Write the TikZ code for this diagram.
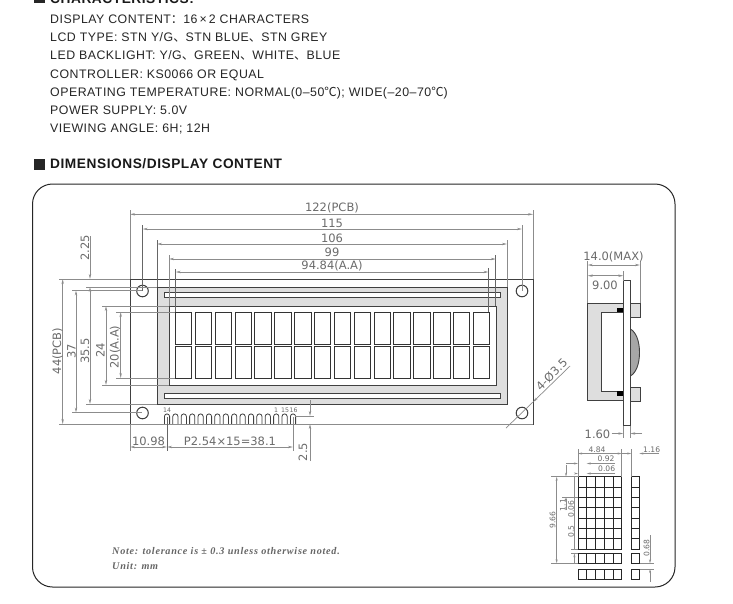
\documentclass[tikz,border=0pt]{standalone}
\usepackage{fontspec}
\setmainfont{Liberation Sans}
\newfontfamily\hdrfont[LetterSpace=4]{Liberation Sans}
\newfontfamily\cjk{Noto Sans CJK SC}
\newfontfamily\notefont[LetterSpace=7]{Liberation Serif}
\newfontfamily\cadfont{DejaVu Sans}
\usetikzlibrary{arrows.meta}
\definecolor{dimgray}{gray}{0.55}
\definecolor{txtgray}{gray}{0.42}
\definecolor{shapegray}{gray}{0.25}
\definecolor{panelgray}{gray}{0.87}
\newcommand{\pu}{{\cjk 、}}
\newcommand{\degc}{{\cjk ℃}}
\tikzset{
  hdr/.style={anchor=west,inner sep=0pt,text height=9pt,text depth=0pt,font=\hdrfont\fontsize{12.35}{12}\selectfont,text=black!85},
  hdrb/.style={anchor=west,inner sep=0pt,text height=9.8pt,text depth=0pt,font=\hdrfont\bfseries\fontsize{13.7}{13}\selectfont,text=black!90},
  notetxt/.style={anchor=west,inner sep=0pt,font=\notefont\bfseries\itshape\fontsize{10.2}{10}\selectfont,text=black!60},
  dimtxt/.style={inner sep=0pt,text height=8.4pt,text depth=0pt,font=\cadfont\fontsize{11.5}{12}\selectfont,text=txtgray},
  dimsmall/.style={inner sep=0pt,text height=5.7pt,text depth=0pt,font=\cadfont\fontsize{7.6}{8}\selectfont,text=txtgray},
  pinlab/.style={inner sep=0pt,text height=4.6pt,text depth=0pt,font=\cadfont\fontsize{6.2}{7}\selectfont,text=txtgray},
  extl/.style={draw=dimgray,line width=0.8pt},
  extd/.style={draw=shapegray!80,line width=0.7pt},
  dimln/.style={draw=dimgray,line width=0.7pt,{Stealth[length=5pt,width=2.4pt]}-{Stealth[length=5pt,width=2.4pt]}},
  dimto/.style={draw=dimgray,line width=0.7pt,-{Stealth[length=5pt,width=2.4pt]}},
  outl/.style={draw=shapegray,line width=0.9pt},
  cellbox/.style={draw=black!80,line width=0.9pt,fill=white},
  dimS/.style={draw=dimgray,line width=0.6pt,{Stealth[length=4pt,width=2pt]}-{Stealth[length=4pt,width=2pt]}},
  dimSto/.style={draw=dimgray,line width=0.6pt,-{Stealth[length=4pt,width=2pt]}},
  extS/.style={draw=dimgray,line width=0.6pt},
  pixbox/.style={draw=black!85,line width=0.9pt},
}
\begin{document}
\begin{tikzpicture}[x=1pt,y=-1pt]
\clip (0,0) rectangle (733,603);
\fill[white] (0,0) rectangle (733,603);
% header text
\fill[black!85] (34,-5) rectangle (45,3);
\node[hdrb] (hc) at (50,-1) {CHARACTERISTICS:};
\node[hdr] (l1) at (50,18.7) {DISPLAY CONTENT{\cjk ：}16\,×\,2 CHARACTERS};
\node[hdr] (l2) at (50,37) {LCD TYPE: STN Y/G\pu STN BLUE\pu STN GREY};
\node[hdr] (l3) at (50,55.2) {LED BACKLIGHT: Y/G\pu GREEN\pu WHITE\pu BLUE};
\node[hdr] (l4) at (50,73.5) {CONTROLLER: KS0066 OR EQUAL};
\node[hdr] (l5) at (50,91.7) {OPERATING TEMPERATURE: NORMAL(0–50\degc); WIDE(–20–70\degc)};
\node[hdr] (l6) at (50,110) {POWER SUPPLY: 5.0V};
\node[hdr] (l7) at (50,128.2) {VIEWING ANGLE: 6H; 12H};
\fill[black!85] (34,158.5) rectangle (45,170);
\node[hdrb] (hd) at (50,164) {DIMENSIONS/DISPLAY CONTENT};
% outer frame
\draw[black!85,line width=1pt,rounded corners=20pt] (32.5,184) rectangle (675,587);
% front view
\draw[outl] (130,279) rectangle (533,424);
\filldraw[outl,fill=panelgray] (157,287) rectangle (507,404);
\filldraw[outl,fill=white] (169,306) rectangle (496,385);
\filldraw[outl,fill=white] (164,292.5) rectangle (500.5,297);
\filldraw[outl,fill=white] (164,393.5) rectangle (500.5,398);
\foreach \i in {0,...,15}{
  \pgfmathsetmacro{\xa}{175.4+19.86*\i}
  \pgfmathsetmacro{\xb}{\xa+16.5}
  \draw[cellbox] (\xa,312.5) rectangle (\xb,344);
  \draw[cellbox] (\xa,346.5) rectangle (\xb,378);
}
\foreach \p in {(142.5,291),(522,291),(142.5,413),(522,413)}
  \draw[outl,line width=1pt] \p circle (5.8);
% pins
\foreach \i in {0,...,15}{
  \pgfmathsetmacro{\xc}{167+8.4*\i}
  \draw[outl,line width=0.8pt] (\xc-2.6,424) -- (\xc-2.6,416.5) arc[start angle=180,end angle=360,radius=2.6] -- (\xc+2.6,424);
}
\node[pinlab] (p14) at (167,410) {14};
\node[pinlab] (p1) at (276,410) {1};
\node[pinlab] (p15) at (285,410) {15};
\node[pinlab] (p16) at (293.5,410) {16};
% top dimensions
\draw[extl] (130,210) -- (130,279);
\draw[extl] (533,210) -- (533,279);
\draw[dimln] (130,214.3) -- (533,214.3);
\node[dimtxt] (t122) at (332,207.5) {122(PCB)};
\draw[extd] (142.7,225) -- (142.7,291);
\draw[extl] (522,225) -- (522,291);
\draw[dimln] (142.7,229) -- (522,229);
\node[dimtxt] (t115) at (332,223) {115};
\draw[extd] (157,240) -- (157,287);
\draw[extl] (507,240) -- (507,287);
\draw[dimln] (157,244) -- (507,244);
\node[dimtxt] (t106) at (332,238.5) {106};
\draw[extl] (169,255) -- (169,306);
\draw[extd] (495.8,255) -- (495.8,306);
\draw[dimln] (169,259) -- (495.8,259);
\node[dimtxt] (t99) at (332,252.5) {99};
\draw[extd] (175.7,269) -- (175.7,312);
\draw[extd] (488.5,268) -- (488.5,312);
\draw[dimln] (175.7,272) -- (488.5,272);
\node[dimtxt] (t94) at (332,265.7) {94.84(A.A)};
% left dimensions
\draw[extl] (59,279) -- (130,279);
\draw[extl] (59,424) -- (533,424);
\draw[dimln] (62.7,279) -- (62.7,424);
\node[dimtxt,rotate=90] (t44) at (57,351) {44(PCB)};
\draw[extl] (72,290.5) -- (142,290.5);
\draw[extl] (72,412.5) -- (142,412.5);
\draw[dimln] (76,290.5) -- (76,412.5);
\node[dimtxt,rotate=90] (t37) at (71.5,351) {37};
\draw[extl] (86,287) -- (157,287);
\draw[extl] (86,404) -- (157,404);
\draw[dimln] (90,287) -- (90,404);
\node[dimtxt,rotate=90] (t35) at (85,351) {35.5};
\draw[dimto] (90,236) -- (90,279);
\node[dimtxt,rotate=90] (t225) at (85,248) {2.25};
\draw[extl] (102,306) -- (169,306);
\draw[extl] (102,385) -- (169,385);
\draw[dimln] (106,306) -- (106,385);
\node[dimtxt,rotate=90] (t24) at (100.5,350) {24};
\draw[extl] (116,312) -- (175,312);
\draw[extl] (116,378) -- (175,378);
\draw[dimln] (120.7,312) -- (120.7,378);
\node[dimtxt,rotate=90] (t20) at (114.5,347) {20(A.A)};
% bottom dimensions
\draw[extl] (130,424) -- (130,451);
\draw[extd] (167,417) -- (167,451);
\draw[extl] (293,417) -- (293,451);
\draw[dimln] (130,447) -- (167,447);
\draw[dimln] (167,447) -- (293,447);
\node[dimtxt] (t10) at (148.5,441) {10.98};
\node[dimtxt] (tp) at (230,441) {P2.54×15=38.1};
\draw[extl] (295,416) -- (314,416);
\draw[dimto] (310,400) -- (310,416);
\draw[dimto] (310,461) -- (310,424);
\node[dimtxt,rotate=90] (t25) at (303,452) {2.5};
% hole leader
\draw[dimto] (570,366) -- (533,402);
\draw[dimgray,line width=0.7pt] (506,428) -- (533,402);
\node[dimtxt,rotate=45] (t4) at (551.5,374.5) {4-Ø3.5};
% side view
\filldraw[outl,fill=panelgray] (587.7,303) rectangle (623.3,400);
\filldraw[outl,fill=white] (601.7,312) rectangle (623.3,391);
\fill[black] (617,307.7) rectangle (623.3,312);
\fill[black] (617,391) rectangle (623.3,396);
\filldraw[outl,fill=panelgray] (630.3,303) rectangle (640,317);
\filldraw[outl,fill=panelgray] (630.3,387) rectangle (640,401);
\filldraw[outl,fill=gray!70] (630.3,329) .. controls (636,332) and (639.5,341) .. (639.5,352.5) .. controls (639.5,364) and (636,373) .. (630.3,376) -- cycle;
\filldraw[outl,fill=white] (623.3,280.7) rectangle (630.3,425.7);
\draw[extl] (587.7,261) -- (587.7,303);
\draw[extl] (640,261) -- (640,303);
\draw[dimln] (587.7,265) -- (640,265);
\node[dimtxt] (t14) at (613.5,256) {14.0(MAX)};
\draw[extl] (623.3,271) -- (623.3,281);
\draw[dimln] (587.7,275.7) -- (623.3,275.7);
\node[dimtxt] (t9) at (605,285) {9.00};
\draw[extl] (623.3,426) -- (623.3,438);
\draw[extl] (630.3,426) -- (630.3,438);
\draw[dimto] (611.7,433.5) -- (623.3,433.5);
\draw[dimto] (642,433.5) -- (630.3,433.5);
\node[dimtxt] (t16) at (597.5,434) {1.60};
% pixel matrix
\foreach \r in {0,...,6}{
  \pgfmathsetmacro{\ya}{476.7+10.33*\r}
  \pgfmathsetmacro{\yb}{\ya+10.33}
  \foreach \c in {0,...,4}{
    \pgfmathsetmacro{\xa}{578+8.74*\c}
    \pgfmathsetmacro{\xb}{\xa+8.74}
    \draw[pixbox] (\xa,\ya) rectangle (\xb,\yb);
  }
  \draw[pixbox] (631.3,\ya) rectangle (639.3,\yb);
}
\foreach \ya/\yb in {553.3/563.3,569/579}{
  \foreach \c in {0,...,4}{
    \pgfmathsetmacro{\xa}{578+8.74*\c}
    \pgfmathsetmacro{\xb}{\xa+8.74}
    \draw[pixbox] (\xa,\ya) rectangle (\xb,\yb);
  }
  \draw[pixbox] (631.3,\ya) rectangle (639.3,\yb);
}
% matrix dimensions
\draw[extS] (578,449) -- (578,477);
\draw[extS] (621.7,449) -- (621.7,477);
\draw[extS] (631.3,449) -- (631.3,477);
\draw[dimS] (578,453.5) -- (621.7,453.5);
\draw[dimSto] (621.7,453.5) -- (631.3,453.5);
\draw[dimSto] (659,453.5) -- (639.3,453.5);
\node[dimsmall] (d484) at (597,450) {4.84};
\node[dimsmall] (d116) at (651.7,450) {1.16};
\draw[dimSto] (566,463.5) -- (578,463.5);
\draw[dimSto] (615,463.5) -- (586.7,463.5);
\node[dimsmall] (d092) at (606,459) {0.92};
\draw[dimSto] (575,473.5) -- (578,473.5);
\draw[dimSto] (615,473.5) -- (586.7,473.5);
\node[dimsmall] (d006) at (606.7,469) {0.06};
\draw[extS] (551,476.7) -- (578,476.7);
\draw[extS] (551,563.3) -- (578,563.3);
\draw[dimS] (556.7,476.7) -- (556.7,563.3);
\node[dimsmall,rotate=90] (d966) at (552.5,520) {9.66};
\draw[dimSto] (566,465) -- (566,476.7);
\draw[dimSto] (566,510) -- (566,497);
\node[dimsmall,rotate=90] (d11) at (562.7,505) {1.1};
\draw[extS] (562,497) -- (578,497);
\draw[extS] (574.4,476.7) -- (574.4,549);
\node[dimsmall,rotate=90] (d0062) at (571,509) {0.06};
\node[dimsmall,rotate=90] (d05) at (571,531.7) {0.5};
\draw[extS] (571,549) -- (578,549);
\draw[extS] (571,553.3) -- (578,553.3);
\draw[dimSto] (574.4,563) -- (574.4,553.3);
\draw[extS] (640,563.3) -- (654,563.3);
\draw[extS] (640,569) -- (654,569);
\draw[dimSto] (650,535) -- (650,563.3);
\draw[dimSto] (650,582) -- (650,569);
\node[dimsmall,rotate=90] (d068) at (646.5,548) {0.68};
% notes
\node[notetxt] (n1) at (112,551) {Note: tolerance is ± 0.3 unless otherwise noted.};
\node[notetxt] (n2) at (112,566) {Unit: mm};
\end{tikzpicture}
\end{document}
